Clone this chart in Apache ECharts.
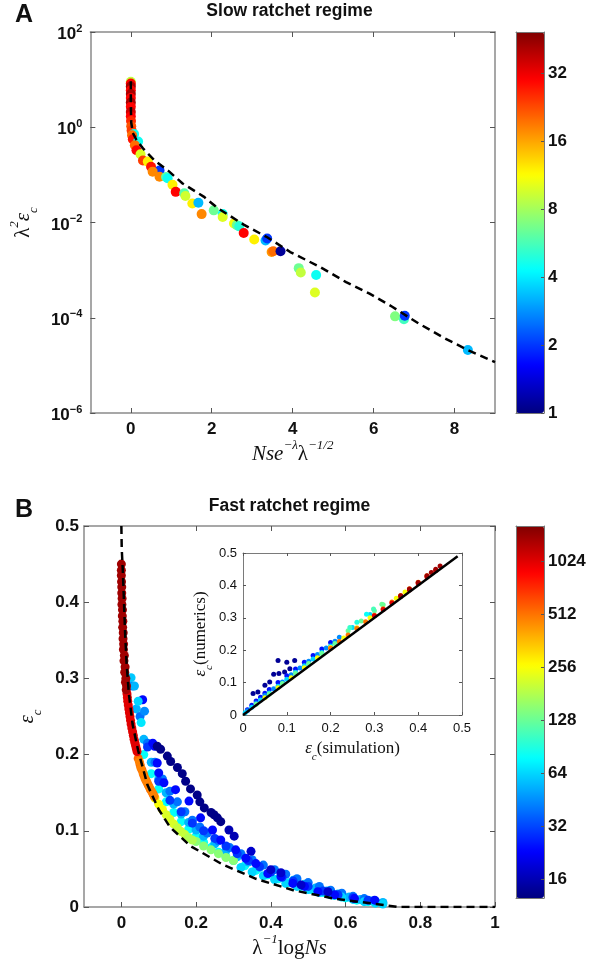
<!DOCTYPE html>
<html><head><meta charset="utf-8">
<script src="https://cdn.jsdelivr.net/npm/echarts@6/dist/echarts.min.js"></script>
<style>html,body{margin:0;padding:0;background:#fff}#c{width:600px;height:961px}</style>
</head><body><div id="c"></div>
<script>
// ---------- Panel A : slow ratchet regime ----------
const aX = [0,0,0,0,0,0,0,0,0,0,0.005,0.01,0.02,0.08,0.03,0.05,0.18,0.1,0.14,0.24,0.3,0.42,0.5,0.71,0.54,0.71,0.87,0.91,1.03,1.11,1.32,1.35,1.52,1.67,1.75,2.05,2.27,2.27,2.55,2.62,2.68,2.79,3.05,3.33,3.37,3.48,3.52,3.7,4.15,4.2,4.58,4.55,6.53,6.75,6.77,8.33];
const aY = [9.0,8.3,7.2,6.0,5.0,4.1,3.3,2.7,2.1,1.7,1.35,1.05,0.85,0.72,0.68,0.56,0.50,0.42,0.33,0.27,0.20,0.19,0.148,0.123,0.117,0.091,0.09,0.085,0.062,0.044,0.041,0.036,0.025,0.026,0.015,0.018,0.015,0.013,0.0095,0.0088,0.0083,0.006,0.0044,0.0042,0.0046,0.0024,0.0025,0.0025,0.0011,0.00089,0.00079,0.00034,0.000107,0.000093,0.00011,0.000021];
const aN = [9,30,42,30,42,30,42,30,36,30,26,22,24,4.5,20,28,4.5,20,30,10,24,12,28,2,18,18,6,4.5,12,30,6,9.5,12,3.3,18,6.5,4.5,10,11,6.5,5,30,12,3.3,2,17,20,1.1,6.5,9,4.5,10,7,5.5,2,3.3];
const aCurveX = [0,0,0.01,0.05,0.14,0.3,0.59,0.95,1.28,1.8,2.15,2.8,3.37,3.94,4.67,5.32,5.9,6.46,7.11,7.76,8.33,9.0];
const aCurveY = [9.3,3.2,1.26,0.76,0.54,0.36,0.20,0.117,0.066,0.035,0.020,0.0089,0.0049,0.0024,0.00117,0.00056,0.00032,0.00017,0.000076,0.000037,0.000021,0.0000117];
const aXTicks = [0,2,4,6,8];
const aYTicks = [1e-6,1e-4,1e-2,1,100];
const aColorTicks = [1,2,4,8,16,32];
const aColorRange = [1,49];

// ---------- Panel B : fast ratchet regime ----------
const bX = [
 0.06,0.08,0.10,0.12,0.14,0.16,0.18,0.20,0.22,0.24,0.26,0.28,0.30,0.33,0.36,0.39,0.42,0.45,0.48,0.51,0.54,0.57,0.60,0.63,0.66,
 0.04,0.06,0.08,0.10,0.12,0.14,0.16,0.18,0.20,0.22,0.25,0.28,0.31,0.34,0.37,0.40,0.43,0.46,0.49,0.52,0.55,0.58,0.61,0.64,0.67,0.70,
 0.03,0.05,0.07,0.09,0.11,0.13,0.15,0.17,0.19,0.21,0.23,0.26,0.29,0.32,0.35,0.38,0.41,0.44,0.47,0.50,0.53,0.56,0.59,0.62,0.65,0.68,
 0.32,0.35,0.38,0.41,0.44,0.47,0.50,0.53,0.56,0.59,0.62,0.65,0.68,0.70,
 0.20,0.22,0.24,0.26,0.28,0.30,
 0.07,0.10,0.13,0.16,0.19,0.22,0.25,0.28,0.31,0.34,0.37,0.40,0.43,0.46,0.50,0.54,0.58,0.62,0.66,
 0.057,0.084,0.089,0.096,0.10,0.114,0.145,0.181,0.212,0.244,0.266,0.306,0.333,0.36,0.392,0.427,0.459,0.49,0.526,0.571,0.624,0.678,
 0.096,0.105,0.123,0.132,0.15,0.163,0.172,0.185,0.203,0.21,0.222,0.24,0.248,0.257,0.266,0.288,0.302,0.347,0.40,0.427,0.481,0.553,
 0.026,0.035,0.053,0.062,0.045,
 0.09,0.10,0.11,0.12,0.13,0.14,0.15,0.16,0.17,0.18,0.19,
 0.045,0.050,0.055,0.060,0.066,0.072,0.078,0.085,
 0.048,0.052,0.058,0.063,0.069,0.075,0.082,0.088,
 0.015,0.017,0.020,0.023,0.026,0.030,0.034,0.038,0.042,
 0.016,0.0185,0.0215,0.0245,0.028,0.032,0.036,0.040,
 0,0,0.001,0.002,0.003,0.004,0.005,0.006,0.008,0.010,0.012,0.014,
 0,0.0005,0.001,0.0015,0.0025,0.0035,0.0045,0.0055,0.007,0.009,0.011,0.013];
const bY = [
 0.200,0.175,0.155,0.138,0.124,0.112,0.102,0.093,0.085,0.078,0.072,0.066,0.061,0.054,0.048,0.042,0.037,0.032,0.027,0.023,0.019,0.015,0.012,0.009,0.007,
 0.260,0.220,0.190,0.168,0.150,0.135,0.122,0.111,0.101,0.093,0.083,0.074,0.066,0.059,0.052,0.046,0.040,0.035,0.030,0.025,0.021,0.017,0.013,0.010,0.008,0.006,
 0.290,0.250,0.215,0.190,0.168,0.152,0.138,0.125,0.114,0.105,0.097,0.087,0.078,0.070,0.062,0.055,0.049,0.043,0.037,0.032,0.027,0.022,0.018,0.014,0.011,0.008,
 0.052,0.046,0.041,0.036,0.031,0.027,0.023,0.019,0.016,0.013,0.010,0.007,0.005,0.004,
 0.086,0.080,0.075,0.070,0.065,0.061,
 0.210,0.165,0.140,0.125,0.110,0.100,0.090,0.080,0.070,0.061,0.053,0.046,0.039,0.034,0.027,0.021,0.016,0.012,0.009,
 0.272,0.215,0.211,0.189,0.176,0.163,0.154,0.139,0.117,0.101,0.088,0.075,0.064,0.057,0.044,0.040,0.031,0.027,0.020,0.016,0.011,0.009,
 0.211,0.207,0.198,0.191,0.183,0.175,0.165,0.155,0.147,0.138,0.130,0.124,0.121,0.117,0.112,0.101,0.093,0.073,0.049,0.045,0.029,0.020,
 0.301,0.290,0.242,0.257,0.270,
 0.143,0.135,0.128,0.121,0.115,0.109,0.104,0.099,0.095,0.091,0.088,
 0.195,0.187,0.180,0.173,0.166,0.160,0.154,0.148,
 0.191,0.183,0.176,0.169,0.163,0.157,0.151,0.145,
 0.280,0.270,0.260,0.250,0.240,0.230,0.220,0.212,0.204,
 0.275,0.265,0.255,0.245,0.235,0.225,0.216,0.208,
 0.450,0.435,0.420,0.405,0.390,0.375,0.360,0.345,0.330,0.315,0.300,0.290,
 0.442,0.427,0.412,0.397,0.382,0.367,0.352,0.338,0.323,0.308,0.295,0.285];
const bN = [
 80,80,80,80,80,80,80,80,80,80,80,80,80,80,80,80,80,80,80,80,80,80,80,80,80,
 55,55,55,55,55,55,55,55,55,55,55,55,55,55,55,55,55,55,55,55,55,55,55,55,55,55,
 40,40,40,40,40,40,40,40,40,40,40,40,40,40,40,40,40,40,40,40,40,40,40,40,40,40,
 64,64,64,64,64,64,64,64,64,64,64,64,64,64,
 150,150,150,150,150,150,
 30,30,30,30,30,30,30,30,30,30,30,30,30,30,30,30,30,30,30,
 24,24,24,24,24,24,24,24,24,24,24,24,24,24,24,24,24,24,24,24,24,24,
 13,13,13,13,13,13,13,13,13,13,13,13,13,13,13,16,16,18,18,18,18,18,
 60,55,70,45,64,
 256,256,256,220,220,220,200,200,200,180,180,
 550,550,550,550,550,550,550,550,
 480,480,480,480,480,480,480,480,
 1024,1024,1024,1024,1024,1024,1024,1024,1024,
 1024,1024,1024,1024,1024,1024,1024,1024,
 1400,1400,1400,1400,1400,1400,1400,1400,1400,1400,1400,1400,
 1400,1400,1400,1400,1400,1400,1400,1400,1400,1400,1400,1400];
const bCurveX = [0,0.001,0.004,0.007,0.01,0.014,0.02,0.03,0.045,0.07,0.1,0.13,0.185,0.27,0.36,0.46,0.57,0.68,0.74,1.0];
const bCurveY = [0.5,0.47,0.44,0.40,0.36,0.32,0.28,0.24,0.205,0.16,0.128,0.105,0.08,0.056,0.037,0.022,0.011,0.004,0,0];
const bXTicks = [0,0.2,0.4,0.6,0.8,1];
const bYTicks = [0,0.1,0.2,0.3,0.4,0.5];
const bColorTicks = [16,32,64,128,256,512,1024];
const bColorRange = [12.6,1630];

// ---------- Inset ----------
const inX = [
 0.023,0.034,0.05,0.061,0.07,0.082,0.08,0.095,0.1,0.107,0.118,
 0.01,0.02,0.03,0.04,0.05,0.06,0.08,0.10,0.12,0.14,0.16,0.18,0.20,
 0.01,0.03,0.05,0.07,0.09,0.11,0.13,0.15,0.17,0.19,0.21,0.22,
 0.005,0.02,0.04,0.06,0.08,0.10,0.12,0.14,0.16,0.18,0.20,0.25,0.29,
 0.03,0.06,0.09,0.12,0.15,0.18,0.21,0.24,0.27,0.30,0.32,
 0.244,0.26,0.282,0.298,0.317,
 0.05,0.08,0.11,0.14,0.17,0.20,0.23,0.26,0.29,0.35,0.37,
 0.20,0.22,0.24,0.26,0.28,0.30,0.32,0.34,0.36,0.38,0.40,0.42,
 0.30,0.32,0.34,0.36,0.38,0.40,0.42,0.44,
 0.36,0.38,0.40,0.42,0.43,0.44,0.45];
const inY = [
 0.066,0.071,0.092,0.102,0.126,0.128,0.168,0.133,0.163,0.143,0.168,
 0.016,0.030,0.043,0.055,0.067,0.079,0.100,0.121,0.142,0.163,0.184,0.204,0.224,
 0.013,0.037,0.060,0.081,0.102,0.124,0.145,0.166,0.187,0.207,0.228,0.240,
 0.007,0.024,0.046,0.068,0.089,0.110,0.132,0.152,0.173,0.193,0.213,0.270,0.310,
 0.033,0.065,0.097,0.128,0.159,0.190,0.221,0.260,0.290,0.322,0.340,
 0.270,0.286,0.311,0.327,0.342,
 0.053,0.084,0.115,0.146,0.177,0.208,0.238,0.269,0.300,0.360,0.380,
 0.206,0.227,0.247,0.267,0.288,0.308,0.328,0.349,0.369,0.390,0.410,0.430,
 0.306,0.326,0.346,0.366,0.386,0.406,0.426,0.446,
 0.368,0.389,0.409,0.430,0.440,0.450,0.460];
const inN = [
 14,14,14,14,14,14,14,14,14,14,14,
 25,25,25,25,25,25,25,25,25,25,25,25,25,
 45,45,45,45,45,45,45,45,45,45,45,45,
 64,64,64,64,64,64,64,64,64,64,64,64,64,
 128,128,128,128,128,128,128,128,128,128,128,
 100,90,80,110,130,
 256,256,256,256,256,256,256,256,256,256,256,
 512,512,512,512,512,512,512,512,512,512,512,512,
 1024,1024,1024,1024,1024,1024,1024,1024,
 1400,1400,1400,1400,1400,1400,1400];
const inLineX = [0,0.49];
const inLineY = [0,0.49];
const inTicks = [0,0.1,0.2,0.3,0.4,0.5];

// ---------- build ----------
const JET = ['#000080','#0000ff','#0080ff','#00ffff','#80ff80','#ffff00','#ff8000','#ff0000','#800000'];
const SANS = 'Liberation Sans', SERIF = 'Liberation Serif';
const FRAME = '#8a8a8a';
const log2 = Math.log2, log10 = Math.log10;

const ptsLogY = (xs, ys, ns) => xs.map((x, i) => [x, log10(ys[i]), log2(ns[i])]);
const pts = (xs, ys, ns) => xs.map((x, i) => [x, ys[i], log2(ns[i])]);
const line = (xs, ys, f) => xs.map((x, i) => [x, f ? f(ys[i]) : ys[i]]);

const tickLbl = {fontFamily: SANS, fontWeight: 'bold', fontSize: 17, color: '#111'};
const nameRich = {
  n: {fontFamily: SERIF, fontSize: 21, lineHeight: 20, padding: [5,0,0,0], verticalAlign: 'top', color: '#111'},
  i: {fontFamily: SERIF, fontStyle: 'italic', fontSize: 21, lineHeight: 20, padding: [5,0,0,0], verticalAlign: 'top', color: '#111'},
  s: {fontFamily: SERIF, fontStyle: 'italic', fontSize: 13, lineHeight: 12, verticalAlign: 'top', color: '#111'},
  u: {fontFamily: SERIF, fontStyle: 'italic', fontSize: 13, lineHeight: 12, padding: [19,0,0,0], verticalAlign: 'top', color: '#111'}
};
const insetRich = {
  n: {fontFamily: SERIF, fontSize: 17, lineHeight: 17, padding: [4,0,0,0], verticalAlign: 'top', color: '#111'},
  i: {fontFamily: SERIF, fontStyle: 'italic', fontSize: 17, lineHeight: 17, padding: [4,0,0,0], verticalAlign: 'top', color: '#111'},
  u: {fontFamily: SERIF, fontStyle: 'italic', fontSize: 11, lineHeight: 10, padding: [16,0,0,0], verticalAlign: 'top', color: '#111'}
};

function frameX(grid, min, max, pos, ticks, labels, extra) {
  return Object.assign({
    gridIndex: grid, type: 'value', min, max, position: pos,
    axisLine: {show: true, onZero: false, lineStyle: {color: FRAME, width: 1.5}},
    axisTick: {show: ticks != null, inside: true, length: 5, customValues: ticks || [], lineStyle: {color: '#555'}},
    axisLabel: labels ? Object.assign({customValues: ticks}, labels) : {show: false},
    splitLine: {show: false}
  }, extra || {});
}

const aLabelFmt = v => { const e = Math.round(v); return '{b|10}{s|' + (e < 0 ? '\u2212' + (-e) : e) + '}'; };

const grids = [
  {left: 84, top: 32, width: 411, height: 381},
  {left: 516, top: 32, width: 28, height: 381},
  {left: 84, top: 526, width: 411, height: 381},
  {left: 516, top: 526, width: 28, height: 372},
  {left: 243, top: 553, width: 219, height: 162}
];

const aYT = aYTicks.map(log10);
const cbA = aColorRange.map(log2), cbB = bColorRange.map(log2);

const xAxes = [
  frameX(0, -1, 9, 'bottom', aXTicks, Object.assign({margin: 8}, tickLbl),
    {name: '{i|Nse}{s|\u2212\u03bb}{n|\u03bb}{s|\u22121/2}', nameLocation: 'middle', nameGap: 24, nameTextStyle: {rich: nameRich}}),
  frameX(0, -1, 9, 'top', aXTicks, null),
  frameX(1, 0, 1, 'bottom', null, null, {z: 10}),
  frameX(1, 0, 1, 'top', null, null, {z: 10}),
  frameX(2, -0.1, 1, 'bottom', bXTicks, Object.assign({margin: 8}, tickLbl),
    {name: '{n|\u03bb}{s|\u22121}{n|log}{i|Ns}', nameLocation: 'middle', nameGap: 24, nameTextStyle: {rich: nameRich}}),
  frameX(2, -0.1, 1, 'top', bXTicks, null),
  frameX(3, 0, 1, 'bottom', null, null, {z: 10}),
  frameX(3, 0, 1, 'top', null, null, {z: 10}),
  frameX(4, 0, 0.5, 'bottom', inTicks, {margin: 7, fontFamily: SANS, fontSize: 13, color: '#111'},
    {name: '{i|\u03b5}{u|c}{n|(simulation)}', nameLocation: 'middle', nameGap: 20, nameTextStyle: {rich: insetRich}}),
  frameX(4, 0, 0.5, 'top', inTicks, null)
];
xAxes.slice(8).forEach(a => { a.axisLine.lineStyle = {color: '#7a7a7a', width: 1}; a.axisTick.length = 3; });

const yAxes = [
  frameX(0, -6, 2, 'left', aYT, Object.assign({margin: 8, formatter: aLabelFmt, rich: {
      b: {fontFamily: SANS, fontWeight: 'bold', fontSize: 17, lineHeight: 18, padding: [3,0,0,0], verticalAlign: 'top', color: '#111'},
      s: {fontFamily: SANS, fontWeight: 'bold', fontSize: 11, lineHeight: 11, verticalAlign: 'top', color: '#111'}}}, {}),
    {name: '{n|\u03bb}{s|2}{i|\u03b5}{u|c}', nameLocation: 'middle', nameGap: 44, nameRotate: 90, nameTextStyle: {rich: nameRich}}),
  frameX(0, -6, 2, 'right', aYT, null),
  frameX(1, cbA[0], cbA[1], 'left', null, null, {z: 10}),
  frameX(1, cbA[0], cbA[1], 'right', aColorTicks.map(log2), Object.assign({margin: 4, formatter: v => String(Math.round(Math.pow(2, v)))}, tickLbl), {z: 10}),
  frameX(2, 0, 0.5, 'left', bYTicks, Object.assign({margin: 5}, tickLbl),
    {name: '{i|\u03b5}{u|c}', nameLocation: 'middle', nameGap: 44, nameRotate: 90, nameTextStyle: {rich: nameRich}}),
  frameX(2, 0, 0.5, 'right', bYTicks, null),
  frameX(3, cbB[0], cbB[1], 'left', null, null, {z: 10}),
  frameX(3, cbB[0], cbB[1], 'right', bColorTicks.map(log2), Object.assign({margin: 4, formatter: v => String(Math.round(Math.pow(2, v)))}, tickLbl), {z: 10}),
  frameX(4, 0, 0.5, 'left', inTicks, {margin: 6, fontFamily: SANS, fontSize: 13, color: '#111'},
    {name: '{i|\u03b5}{u|c}{n|(numerics)}', nameLocation: 'middle', nameGap: 20, nameRotate: 90, nameTextStyle: {rich: insetRich}}),
  frameX(4, 0, 0.5, 'right', inTicks, null)
];
yAxes.slice(8).forEach(a => { a.axisLine.lineStyle = {color: '#7a7a7a', width: 1}; a.axisTick.length = 3; });
[2,3,6,7].forEach(k => { xAxes[k].axisLine.lineStyle = {color: '#777', width: 1}; yAxes[k].axisLine.lineStyle = {color: '#777', width: 1}; yAxes[k].axisTick.length = 3; });

const option = {
  animation: false,
  backgroundColor: '#fff',
  grid: grids,
  xAxis: xAxes,
  yAxis: yAxes,
  visualMap: [
    {type: 'continuous', seriesIndex: 0, dimension: 2, min: cbA[0], max: cbA[1], inRange: {color: JET},
     calculable: false, hoverLink: false, left: 516, top: 32, itemWidth: 28, itemHeight: 381, padding: 0, orient: 'vertical'},
    {type: 'continuous', seriesIndex: [2, 4], dimension: 2, min: cbB[0], max: cbB[1], inRange: {color: JET},
     calculable: false, hoverLink: false, left: 516, top: 526, itemWidth: 28, itemHeight: 372, padding: 0, orient: 'vertical'}
  ],
  series: [
    {type: 'scatter', xAxisIndex: 0, yAxisIndex: 0, data: ptsLogY(aX, aY, aN), symbolSize: 10, itemStyle: {opacity: 1}, z: 2},
    {type: 'line', xAxisIndex: 0, yAxisIndex: 0, data: line(aCurveX, aCurveY, log10), symbol: 'none',
     lineStyle: {color: '#000', width: 2.5, type: [8, 5]}, z: 5},
    {type: 'scatter', xAxisIndex: 4, yAxisIndex: 4, data: pts(bX, bY, bN), symbolSize: 9, itemStyle: {opacity: 1}, z: 2},
    {type: 'line', xAxisIndex: 4, yAxisIndex: 4, data: line(bCurveX, bCurveY), symbol: 'none',
     lineStyle: {color: '#000', width: 2.5, type: [8, 5]}, z: 5},
    {type: 'scatter', xAxisIndex: 8, yAxisIndex: 8, data: pts(inX, inY, inN), symbolSize: 5, itemStyle: {opacity: 1}, z: 2},
    {type: 'line', xAxisIndex: 8, yAxisIndex: 8, data: line(inLineX, inLineY), symbol: 'none',
     lineStyle: {color: '#000', width: 2.5}, z: 5}
  ],
  graphic: [
    {type: 'text', x: 24, y: 15, style: {text: 'A', font: 'bold 25px "Liberation Sans"', fill: '#111', textAlign: 'center', textVerticalAlign: 'middle'}},
    {type: 'text', x: 289.5, y: 11, style: {text: 'Slow ratchet regime', font: 'bold 17.5px "Liberation Sans"', fill: '#111', textAlign: 'center', textVerticalAlign: 'middle'}},
    {type: 'text', x: 24, y: 510, style: {text: 'B', font: 'bold 25px "Liberation Sans"', fill: '#111', textAlign: 'center', textVerticalAlign: 'middle'}},
    {type: 'text', x: 289.5, y: 506, style: {text: 'Fast ratchet regime', font: 'bold 17.5px "Liberation Sans"', fill: '#111', textAlign: 'center', textVerticalAlign: 'middle'}}
  ]
};

const chart = echarts.init(document.getElementById('c'), null, {renderer: 'canvas'});
chart.setOption(option);
</script>
</body></html>
